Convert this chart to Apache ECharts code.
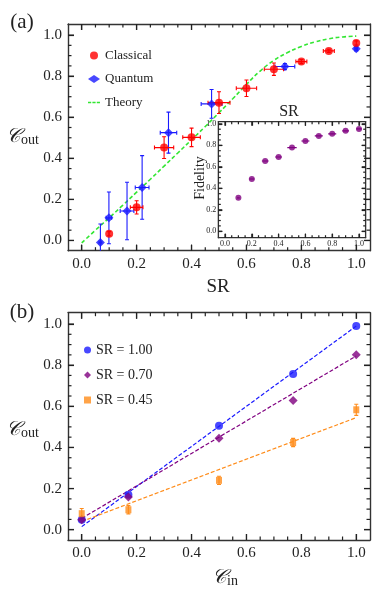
<!DOCTYPE html>
<html><head><meta charset="utf-8">
<script src="https://cdn.jsdelivr.net/npm/echarts@6/dist/echarts.min.js"></script>
<style>html,body{margin:0;padding:0;background:#fff}#c{width:374px;height:591px}</style>
</head><body><div id="c"></div>
<script>
const FONT = '"Liberation Serif", "DejaVu Serif", serif';

// ---------- Panel (a) data ----------
const classicalX    = [0.1, 0.2, 0.3, 0.4, 0.5, 0.6, 0.7, 0.8, 0.9, 1.0];
const classicalY    = [0.033, 0.161, 0.452, 0.502, 0.671, 0.741, 0.834, 0.871, 0.923, 0.962];
const classicalXErr = [0, 0.023, 0.035, 0.032, 0.04, 0.037, 0.035, 0.02, 0.02, 0];
const classicalYErr = [0.01, 0.032, 0.053, 0.045, 0.053, 0.04, 0.03, 0.01, 0.008, 0.01];

const quantumX    = [0.068, 0.099, 0.165, 0.22, 0.316, 0.473, 0.74, 1.0];
const quantumY    = [-0.01, 0.11, 0.143, 0.258, 0.525, 0.665, 0.847, 0.933];
const quantumXErr = [0.005, 0.01, 0.025, 0.025, 0.03, 0.038, 0.036, 0.005];
const quantumYErr = [0.09, 0.126, 0.14, 0.155, 0.1, 0.07, 0.015, 0.01];

const theoryX = [0, 0.05, 0.1, 0.15, 0.2, 0.25, 0.3, 0.35, 0.4, 0.45, 0.5, 0.55, 0.6, 0.65, 0.7, 0.75, 0.8, 0.85, 0.9, 0.95, 1.0];
const theoryY = [-0.012, 0.05, 0.11, 0.172, 0.235, 0.298, 0.362, 0.426, 0.49, 0.555, 0.622, 0.69, 0.76, 0.825, 0.877, 0.915, 0.945, 0.967, 0.982, 0.991, 0.995];

// inset
const fidX    = [0.1, 0.2, 0.3, 0.4, 0.5, 0.6, 0.7, 0.8, 0.9, 1.0];
const fidY    = [0.311, 0.486, 0.654, 0.692, 0.779, 0.841, 0.888, 0.907, 0.935, 0.953];
const fidXErr = [0.01, 0.02, 0.025, 0.025, 0.035, 0.03, 0.03, 0.03, 0.025, 0.02];

// ---------- Panel (b) data ----------
const cin     = [0, 0.17, 0.5, 0.77, 1.0];
const sr100   = [0.049, 0.17, 0.505, 0.757, 0.99];
const sr070   = [0.049, 0.159, 0.445, 0.628, 0.85];
const sr045   = [0.078, 0.097, 0.24, 0.424, 0.583];
const sr045Err= [0.025, 0.02, 0.02, 0.02, 0.027];
const fitX    = [0, 1];
const fit100  = [0.015, 0.99];
const fit070  = [0.055, 0.845];
const fit045  = [0.04, 0.545];

// ---------- ticks ----------
const majorTicks = [0, 0.2, 0.4, 0.6, 0.8, 1.0];
const minorTicks = [0.05, 0.1, 0.15, 0.25, 0.3, 0.35, 0.45, 0.5, 0.55, 0.65, 0.7, 0.75, 0.85, 0.9, 0.95];

// axis ranges
const rangeMainX = [-0.05, 1.05], rangeTopY = [-0.05, 1.054];
const rangeInsetX = [-0.05, 1.05], rangeInsetY = [-0.06, 1.02];
const rangeBotX = [-0.05, 1.05], rangeBotY = [-0.05, 1.055];

const zip = (...arrs) => arrs[0].map((_, i) => arrs.map(a => a[i]));

function frameAxes(dim, gridIndex, r, o) {
  const pos = dim === 'x' ? ['bottom', 'top'] : ['left', 'right'];
  const base = { type: 'value', gridIndex, min: r[0], max: r[1], z: o.z || 0, splitLine: { show: false },
                 axisTick: { show: true, inside: true, length: o.major, customValues: majorTicks,
                             lineStyle: { color: '#222', width: 1.2 } },
                 axisLine: { show: true, onZero: false, lineStyle: { color: '#333', width: o.lw } } };
  return [
    Object.assign({}, base, { position: pos[0],
      axisLabel: { show: true, customValues: majorTicks, formatter: v => Number(v).toFixed(1),
        fontFamily: FONT, fontSize: o.fontSize, color: '#222', margin: o.margin } }),
    Object.assign({}, base, { position: pos[1], axisLabel: { show: false } })
  ];
}

function errBars(name, rows, color, axisIdx, z, cap) {
  return {
    type: 'custom', name, xAxisIndex: axisIdx, yAxisIndex: axisIdx, z, silent: true, clip: true,
    data: rows, encode: { x: 0, y: 1 },
    renderItem(params, api) {
      const x = api.value(0), y = api.value(1), ex = api.value(2), ey = api.value(3);
      const st = { stroke: color, lineWidth: 1.1 };
      const L = (a, b) => ({ type: 'line', shape: { x1: a[0], y1: a[1], x2: b[0], y2: b[1] }, style: st });
      const ch = [];
      if (ey > 0) {
        const p1 = api.coord([x, y - ey]), p2 = api.coord([x, y + ey]);
        ch.push(L(p1, p2), L([p1[0] - cap, p1[1]], [p1[0] + cap, p1[1]]), L([p2[0] - cap, p2[1]], [p2[0] + cap, p2[1]]));
      }
      if (ex > 0) {
        const p1 = api.coord([x - ex, y]), p2 = api.coord([x + ex, y]);
        ch.push(L(p1, p2), L([p1[0], p1[1] - cap], [p1[0], p1[1] + cap]), L([p2[0], p2[1] - cap], [p2[0], p2[1] + cap]));
      }
      return { type: 'group', children: ch };
    }
  };
}

const mainAx = { fontSize: 15, margin: 6, lw: 1.4, major: 6 };
const insetAx = { fontSize: 8, margin: 2, z: 6, lw: 1.1, major: 4 };

const xAxis = [].concat(
  frameAxes('x', 0, rangeMainX, mainAx),
  frameAxes('x', 1, rangeInsetX, insetAx),
  frameAxes('x', 2, rangeBotX, mainAx)
);
const yAxis = [].concat(
  frameAxes('y', 0, rangeTopY, mainAx),
  frameAxes('y', 1, rangeInsetY, insetAx),
  frameAxes('y', 2, rangeBotY, mainAx)
);

const RED = '#ff0000', BLUE = '#1a1aff', GREEN = '#33e633', PURPLE = '#800080', ORANGE = '#ff8c1a';

const series = [
  { name: 'Theory', type: 'line', xAxisIndex: 0, yAxisIndex: 0, z: 2, data: zip(theoryX, theoryY), smooth: true,
    symbol: 'none', lineStyle: { color: GREEN, width: 1.6, type: [4, 2.5] }, itemStyle: { color: GREEN } },
  errBars('qerr', zip(quantumX, quantumY, quantumXErr, quantumYErr), BLUE, 0, 3, 2),
  errBars('cerr', zip(classicalX, classicalY, classicalXErr, classicalYErr), RED, 0, 3, 2),
  { name: 'Quantum', type: 'scatter', xAxisIndex: 0, yAxisIndex: 0, z: 4, data: zip(quantumX, quantumY),
    symbol: 'diamond', symbolSize: 9, itemStyle: { color: BLUE } },
  { name: 'Classical', type: 'scatter', xAxisIndex: 0, yAxisIndex: 0, z: 4, data: zip(classicalX, classicalY),
    symbol: 'circle', symbolSize: 8, itemStyle: { color: RED } },

  // inset
  errBars('ferr', zip(fidX, fidY, fidXErr, fidX.map(() => 0)), PURPLE, 2, 7, 0),
  { name: 'Fidelity', type: 'scatter', xAxisIndex: 2, yAxisIndex: 2, z: 8, data: zip(fidX, fidY),
    symbol: 'circle', symbolSize: 6, itemStyle: { color: PURPLE } },

  // panel b
  { name: 'fit100', type: 'line', xAxisIndex: 4, yAxisIndex: 4, z: 2, data: zip(fitX, fit100), symbol: 'none',
    lineStyle: { color: BLUE, width: 1.2, type: [4, 2] } },
  { name: 'fit070', type: 'line', xAxisIndex: 4, yAxisIndex: 4, z: 2, data: zip(fitX, fit070), symbol: 'none',
    lineStyle: { color: PURPLE, width: 1.2, type: [4, 2] } },
  { name: 'fit045', type: 'line', xAxisIndex: 4, yAxisIndex: 4, z: 2, data: zip(fitX, fit045), symbol: 'none',
    lineStyle: { color: ORANGE, width: 1.2, type: [4, 2] } },
  errBars('oerr', zip(cin, sr045, cin.map(() => 0), sr045Err), ORANGE, 4, 3, 2),
  { name: 'SR = 1.00', type: 'scatter', xAxisIndex: 4, yAxisIndex: 4, z: 4, data: zip(cin, sr100),
    symbol: 'circle', symbolSize: 8, itemStyle: { color: BLUE } },
  { name: 'SR = 0.70', type: 'scatter', xAxisIndex: 4, yAxisIndex: 4, z: 5, data: zip(cin, sr070),
    symbol: 'diamond', symbolSize: 9, itemStyle: { color: PURPLE } },
  { name: 'SR = 0.45', type: 'scatter', xAxisIndex: 4, yAxisIndex: 4, z: 5, data: zip(cin, sr045),
    symbol: 'rect', symbolSize: [6, 7], itemStyle: { color: ORANGE } }
];

const txt = (x, y, text, size, extra) => Object.assign({
  type: 'text', x, y, z: 20,
  style: Object.assign({ text, fontFamily: FONT, fontSize: size, fill: '#222', align: 'center', verticalAlign: 'middle' }, extra || {})
});
const coutRich = { c: { fontFamily: FONT, fontSize: 20, fontStyle: 'italic', fill: '#222' }, s: { fontFamily: FONT, fontSize: 14, fill: '#222', padding: [6, 0, 0, 0] } };

const dashIcon = 'path://M0,0H3.2V1.6H0Z M4.4,0H7.6V1.6H4.4Z M8.8,0H12V1.6H8.8Z';

const labels = [
  txt(22, 22, '(a)', 21),
  txt(22, 312, '(b)', 21),
  txt(218, 287, 'SR', 19),
  txt(289, 112, 'SR', 16),
  Object.assign(txt(200, 178, 'Fidelity', 14, {}), { rotation: Math.PI / 2 }),
  { type: 'text', x: 6, y: 137, z: 20, style: { text: '{c|𝒞}{s|out}', rich: coutRich, verticalAlign: 'middle', align: 'left' } },
  { type: 'text', x: 6, y: 430, z: 20, style: { text: '{c|𝒞}{s|out}', rich: coutRich, verticalAlign: 'middle', align: 'left' } },
  { type: 'text', x: 212, y: 578, z: 20, style: { text: '{c|𝒞}{s|in}', rich: coutRich, verticalAlign: 'middle', align: 'left' } }
];

const option = {
  animation: false,
  backgroundColor: '#fff',
  grid: [
    { left: 68, top: 24, width: 302, height: 226.7, show: false, z: 0 },
    { left: 218.3, top: 121.7, width: 147.4, height: 116, show: true, borderColor: '#333', borderWidth: 1.1, backgroundColor: '#fff', z: 5 },
    { left: 68, top: 312.7, width: 302, height: 227.3, show: false, z: 0 }
  ],
  xAxis, yAxis, series,
  legend: [
    { data: ['Classical', 'Quantum', { name: 'Theory', icon: dashIcon, itemStyle: { color: GREEN } }],
      orient: 'vertical', left: 83, top: 44, itemGap: 10.5,
      itemWidth: 12, itemHeight: 8, textStyle: { fontFamily: FONT, fontSize: 13, color: '#222' }, selectedMode: false },
    { data: ['SR = 1.00', 'SR = 0.70', 'SR = 0.45'], orient: 'vertical', left: 79, top: 338, itemGap: 11,
      itemWidth: 7, itemHeight: 7, textStyle: { fontFamily: FONT, fontSize: 14, color: '#222' }, selectedMode: false }
  ],
  graphic: { elements: labels }
};

const chart = echarts.init(document.getElementById('c'));
chart.setOption(option);

// Frame ticks on all four sides, placed through the library's own axis scales.
const frames = [
  { xi: 0, yi: 0, xr: rangeMainX, yr: rangeTopY, major: 6, minor: 3.5 },
  { xi: 2, yi: 2, xr: rangeInsetX, yr: rangeInsetY, major: 4, minor: 2.5 },
  { xi: 4, yi: 4, xr: rangeBotX, yr: rangeBotY, major: 6, minor: 3.5 }
];
const tickEls = [];
frames.forEach(f => {
  const X = v => chart.convertToPixel({ xAxisIndex: f.xi }, v);
  const Y = v => chart.convertToPixel({ yAxisIndex: f.yi }, v);
  const x0 = X(f.xr[0]), x1 = X(f.xr[1]), yb = Y(f.yr[0]), yt = Y(f.yr[1]);
  const add = (vals, len) => vals.forEach(v => {
    const px = X(v), py = Y(v);
    const st = { stroke: '#222', lineWidth: 1.2 };
    tickEls.push(
      { type: 'line', z: 30, silent: true, shape: { x1: px, y1: yb, x2: px, y2: yb - len }, style: st },
      { type: 'line', z: 30, silent: true, shape: { x1: px, y1: yt, x2: px, y2: yt + len }, style: st },
      { type: 'line', z: 30, silent: true, shape: { x1: x0, y1: py, x2: x0 + len, y2: py }, style: st },
      { type: 'line', z: 30, silent: true, shape: { x1: x1, y1: py, x2: x1 - len, y2: py }, style: st }
    );
  });
  add(majorTicks, f.major);
  add(minorTicks, f.minor);
});
chart.setOption({ graphic: { elements: labels.concat(tickEls) } }, { replaceMerge: ['graphic'] });
</script></body></html>
